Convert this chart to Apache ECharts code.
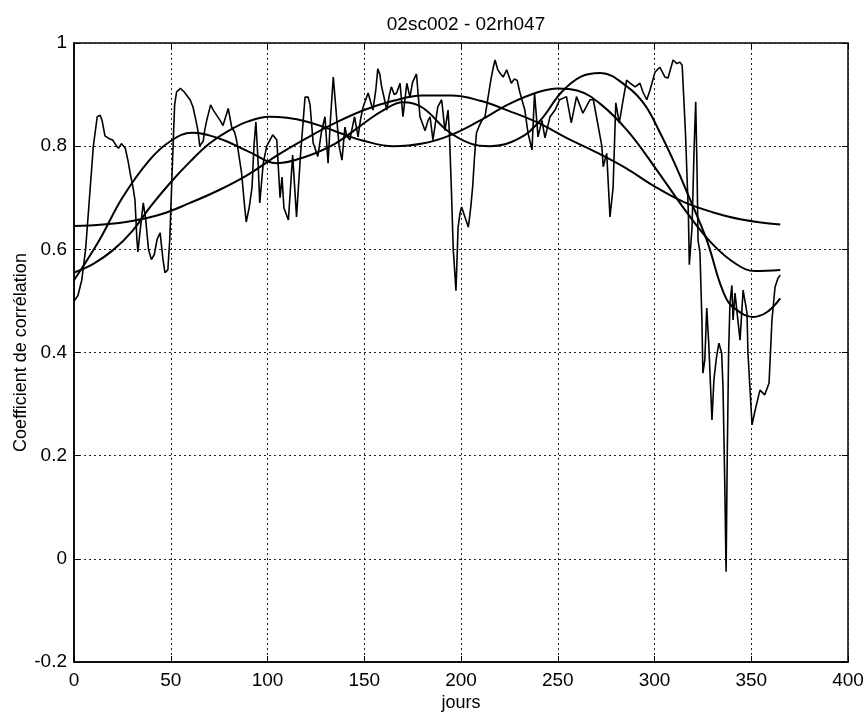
<!DOCTYPE html>
<html>
<head>
<meta charset="utf-8">
<script src="https://cdn.jsdelivr.net/npm/echarts@6/dist/echarts.min.js"></script>
<style>
  html, body { margin: 0; padding: 0; background: #fff; }
  #chart { width: 866px; height: 713px; }
</style>
</head>
<body>
<div id="chart"></div>
<script>
// daily correlation (noisy curve)
var noisyDays = [0, 2, 4, 6, 8, 10, 12, 13.5, 14.5, 16, 18, 20, 22, 23, 24.5, 25.5, 26.5, 28, 29, 30.5,
  31.5, 32.5, 33, 34, 35.8, 37, 38.5, 40, 41.5, 43, 44.5, 46, 47, 48.5, 49.5, 51, 52, 53, 55, 57,
  59, 60, 61.5, 63, 64, 65, 66.8, 67.5, 68.6, 70.6, 72, 73, 75.5, 77, 78, 79.7, 81.5, 83, 84, 86.6,
  88, 89, 90.5, 92, 93, 94, 95, 96, 97.8, 99.6, 101, 102.7, 104.8, 106.5, 107.5, 108.5, 110.8, 113, 115, 117,
  119.4, 121, 122, 123.6, 126, 128, 129.7, 131.3, 132.5, 134, 135.7, 137, 138.5, 140, 141, 142.6, 143.5, 145, 146.8, 148,
  149.4, 152, 153, 154.5, 156, 157, 158, 159, 160.5, 161.6, 163, 164, 165.5, 166.7, 168.5, 170, 172, 173.6, 175, 177,
  178.8, 180, 181.4, 183, 184, 185.5, 187, 188, 190, 191.7, 193.3, 194, 195, 196, 197.4, 198.5, 199.5, 200.3, 202, 203.8,
  205, 206, 207, 208, 209.5, 210.8, 212.4, 214, 215.5, 216.7, 217.6, 219, 220.5, 221.8, 223.6, 226, 227.5, 229, 230.5, 233,
  234.6, 236.7, 238, 239.8, 241.8, 243.4, 246, 248.6, 251, 254.5, 257, 259.7, 263, 266.7, 268.4, 270, 272.8, 273.5, 275.3, 277,
  278.6, 280, 281.8, 283.8, 285.6, 287.4, 290, 292.5, 294, 296, 297.7, 300.3, 302.8, 305.4, 307, 309.6, 311.6, 313, 314.3, 316,
  317.5, 318, 319.4, 320.5, 321.3, 322, 322.5, 323.5, 324.5, 325, 326, 327, 328, 329.7, 330.7, 332, 333.3, 334.7, 335.4, 336.3,
  337, 337.6, 338.3, 339, 340, 340.6, 341.6, 342.6, 344.2, 345.8, 347.8, 348.3, 350.4, 352, 354.5, 357, 359.2, 360.7, 362.3, 363.8,
  365];
var noisyValues = [0.50, 0.51, 0.54, 0.60, 0.70, 0.80, 0.857, 0.86, 0.85, 0.82, 0.815, 0.812, 0.80, 0.796, 0.805, 0.803, 0.796, 0.77, 0.748, 0.72,
  0.696, 0.62, 0.595, 0.63, 0.69, 0.66, 0.60, 0.58, 0.59, 0.62, 0.632, 0.58, 0.555, 0.56, 0.62, 0.78, 0.88, 0.905, 0.912, 0.905,
  0.895, 0.89, 0.876, 0.85, 0.831, 0.80, 0.81, 0.83, 0.85, 0.88, 0.87, 0.864, 0.85, 0.84, 0.837, 0.873, 0.837, 0.827, 0.812, 0.748,
  0.69, 0.653, 0.68, 0.72, 0.80, 0.847, 0.78, 0.69, 0.767, 0.80, 0.81, 0.822, 0.812, 0.70, 0.74, 0.68, 0.657, 0.783, 0.663, 0.78,
  0.895, 0.895, 0.88, 0.806, 0.78, 0.83, 0.857, 0.767, 0.85, 0.934, 0.857, 0.80, 0.773, 0.837, 0.82, 0.812, 0.83, 0.857, 0.818, 0.85,
  0.876, 0.903, 0.90, 0.87, 0.91, 0.95, 0.94, 0.915, 0.89, 0.87, 0.90, 0.915, 0.90, 0.903, 0.922, 0.857, 0.922, 0.895, 0.924, 0.94,
  0.857, 0.845, 0.83, 0.85, 0.857, 0.812, 0.85, 0.876, 0.89, 0.83, 0.87, 0.826, 0.72, 0.60, 0.52, 0.643, 0.67, 0.682, 0.663, 0.643,
  0.68, 0.72, 0.78, 0.826, 0.84, 0.85, 0.857, 0.895, 0.93, 0.953, 0.967, 0.948, 0.94, 0.934, 0.948, 0.922, 0.93, 0.928, 0.903, 0.87,
  0.826, 0.793, 0.903, 0.818, 0.85, 0.816, 0.857, 0.87, 0.89, 0.896, 0.845, 0.896, 0.864, 0.89, 0.89, 0.857, 0.80, 0.76, 0.786, 0.663,
  0.72, 0.884, 0.845, 0.89, 0.928, 0.922, 0.915, 0.922, 0.905, 0.89, 0.909, 0.944, 0.953, 0.934, 0.932, 0.967, 0.96, 0.963, 0.957, 0.826,
  0.67, 0.57, 0.643, 0.80, 0.886, 0.75, 0.618, 0.593, 0.463, 0.36, 0.385, 0.486, 0.42, 0.269, 0.347, 0.39, 0.418, 0.399, 0.333, 0.15,
  -0.025, 0.20, 0.40, 0.496, 0.53, 0.463, 0.515, 0.517, 0.424, 0.521, 0.477, 0.399, 0.26, 0.288, 0.327, 0.318, 0.341, 0.463, 0.527, 0.544,
  0.55];

// fitted curves
var fit1Days = [0, 15, 30, 45, 60, 75, 90, 105, 120, 135, 150, 165, 180, 195, 210, 225, 240, 255, 270, 285, 300, 315, 330, 345, 365];
var fit1Values = [0.645, 0.648, 0.655, 0.668, 0.69, 0.715, 0.745, 0.782, 0.815, 0.845, 0.87, 0.888, 0.898, 0.898, 0.888, 0.868, 0.845, 0.815, 0.788, 0.758, 0.722, 0.692, 0.672, 0.658, 0.648];

var fit2Days = [0, 10, 20, 30, 40, 50, 60, 70, 80, 90, 101, 110, 120, 130, 140, 150, 165, 180, 195, 210, 225, 240, 250, 260, 272, 286, 300, 317, 330, 342, 352, 365];
var fit2Values = [0.555, 0.572, 0.598, 0.635, 0.685, 0.73, 0.77, 0.805, 0.83, 0.848, 0.857, 0.855, 0.848, 0.836, 0.822, 0.81, 0.80, 0.805, 0.822, 0.85, 0.882, 0.905, 0.912, 0.908, 0.882, 0.83, 0.76, 0.67, 0.61, 0.572, 0.558, 0.56];

var fit3Days = [0, 13, 25, 39, 50, 61, 75, 90, 105, 120, 135, 150, 160, 170, 180, 193, 205, 215, 230, 241, 252, 262, 272, 286, 295, 303, 310, 318, 327, 337, 345, 351, 358, 365];
var fit3Values = [0.54, 0.617, 0.70, 0.773, 0.81, 0.826, 0.815, 0.79, 0.767, 0.78, 0.805, 0.845, 0.87, 0.885, 0.875, 0.83, 0.805, 0.80, 0.815, 0.85, 0.905, 0.935, 0.942, 0.915, 0.88, 0.825, 0.77, 0.70, 0.618, 0.505, 0.476, 0.469, 0.478, 0.505];

var xTicks = [0, 50, 100, 150, 200, 250, 300, 350, 400];
var yTicks = [-0.2, 0, 0.2, 0.4, 0.6, 0.8, 1];

function pairs(xs, ys) {
  var out = [];
  for (var i = 0; i < xs.length; i++) out.push([xs[i], ys[i]]);
  return out;
}

var font = 'Liberation Sans, Arial, sans-serif';
var chart = echarts.init(document.getElementById('chart'), null, { renderer: 'canvas' });

var gridLine = { show: true, lineStyle: { color: '#222', width: 1, type: [2, 3] } };

function fitSeries(name, xs, ys) {
  return {
    name: name,
    type: 'line',
    data: pairs(xs, ys),
    smooth: 0.4,
    showSymbol: false,
    lineStyle: { color: '#000', width: 2 },
    animation: false
  };
}

var option = {
  backgroundColor: '#fff',
  title: {
    text: '02sc002 - 02rh047',
    left: 461,
    top: 10,
    textAlign: 'center',
    textStyle: { fontFamily: font, fontSize: 19, fontWeight: 'normal', color: '#000' }
  },
  grid: {
    left: 74, right: 18, top: 43, bottom: 51,
    containLabel: false,
    outerBoundsMode: 'none',
    show: true, borderColor: '#000', borderWidth: 1.5, backgroundColor: 'transparent'
  },
  xAxis: [{
    type: 'value',
    min: xTicks[0], max: xTicks[xTicks.length - 1], interval: 50,
    name: 'jours', nameLocation: 'middle', nameGap: 32, nameMoveOverlap: false,
    nameTextStyle: { fontFamily: font, fontSize: 18, color: '#000' },
    axisLine: { show: true, onZero: false, lineStyle: { color: '#000', width: 1.5 } },
    axisTick: { show: true, inside: true, length: 6, lineStyle: { color: '#000' } },
    axisLabel: { fontFamily: font, fontSize: 19, color: '#000', margin: 9, showMinLabel: true, showMaxLabel: true },
    splitLine: gridLine
  }, {
    type: 'value', position: 'top',
    min: xTicks[0], max: xTicks[xTicks.length - 1], interval: 50,
    axisLine: { show: false, onZero: false },
    axisTick: { show: true, inside: true, length: 6, lineStyle: { color: '#000' } },
    axisLabel: { show: false },
    splitLine: { show: false }
  }],
  yAxis: [{
    type: 'value',
    min: yTicks[0], max: yTicks[yTicks.length - 1], interval: 0.2,
    name: 'Coefficient de corrélation', nameLocation: 'middle', nameGap: 44, nameMoveOverlap: false,
    nameTextStyle: { fontFamily: font, fontSize: 18, color: '#000' },
    axisLine: { show: true, onZero: false, lineStyle: { color: '#000', width: 1.5 } },
    axisTick: { show: true, inside: true, length: 6, lineStyle: { color: '#000' } },
    axisLabel: {
      fontFamily: font, fontSize: 19, color: '#000', margin: 7,
      formatter: function (v) { return String(Math.round(v * 10) / 10); }
    },
    splitLine: gridLine
  }, {
    type: 'value', position: 'right',
    min: yTicks[0], max: yTicks[yTicks.length - 1], interval: 0.2,
    axisLine: { show: false, onZero: false },
    axisTick: { show: true, inside: true, length: 6, lineStyle: { color: '#000' } },
    axisLabel: { show: false },
    splitLine: { show: false }
  }],
  series: [
    {
      name: 'corrélation',
      type: 'line',
      data: pairs(noisyDays, noisyValues),
      showSymbol: false,
      lineStyle: { color: '#000', width: 1.6 },
      animation: false
    },
    fitSeries('ajustement 1', fit1Days, fit1Values),
    fitSeries('ajustement 2', fit2Days, fit2Values),
    fitSeries('ajustement 3', fit3Days, fit3Values)
  ]
};

chart.setOption(option);
</script>
</body>
</html>
